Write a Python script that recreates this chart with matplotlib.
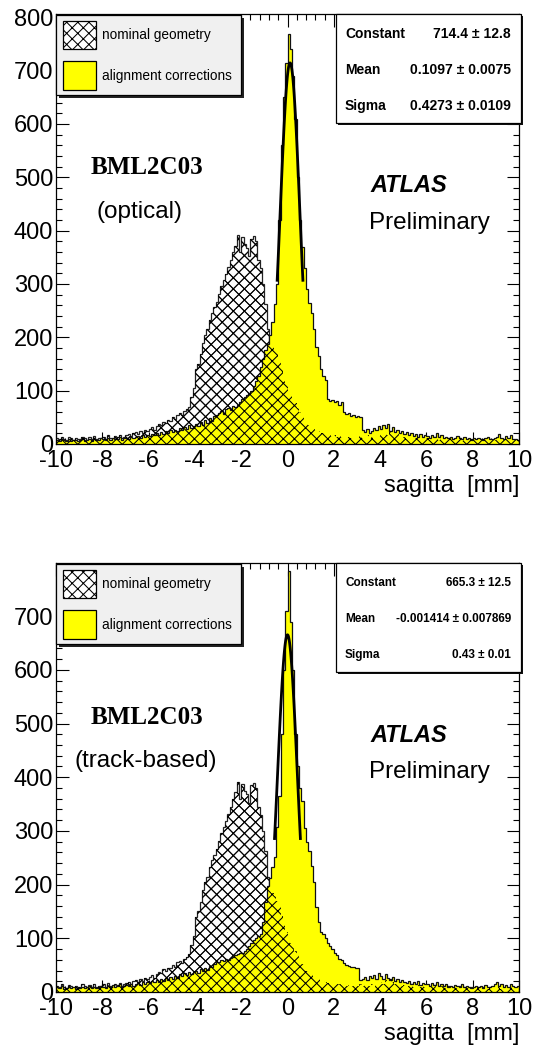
import numpy as np
import matplotlib
matplotlib.use('Agg')
import matplotlib.pyplot as plt
from matplotlib.patches import Rectangle
from matplotlib.ticker import MultipleLocator

W, H = 538, 1048

plt.rcParams.update({
    'font.family': 'Liberation Sans',
    'axes.unicode_minus': False,
    'hatch.linewidth': 0.75,
    'axes.linewidth': 0.9,
})

# ---------------------------------------------------------------------------
# Data: 200 bins of 0.1 mm between -10 and 10 mm
# ---------------------------------------------------------------------------
bin_lo, bin_hi, n_bins = -10.0, 10.0, 200

# nominal geometry (same sample in both panels)
nominal_counts = [
    12, 9, 14, 10, 8, 13, 11, 7, 12, 10,
    9, 14, 11, 8, 13, 10, 15, 9, 12, 11,
    14, 10, 16, 12, 9, 15, 13, 17, 11, 14,
    16, 19, 15, 20, 22, 18, 24, 21, 26, 24,
    28, 31, 27, 34, 38, 36, 42, 40, 45, 44,
    50, 47, 55, 58, 54, 62, 66, 70, 88, 105,
    140, 150, 168, 190, 205, 215, 232, 245, 256, 266,
    282, 296, 307, 318, 332, 345, 360, 372, 392, 360,
    388, 375, 368, 352, 385, 390, 380, 345, 330, 300,
    262, 215, 190, 184, 178, 170, 158, 142, 128, 112,
    100, 92, 84, 76, 68, 60, 52, 46, 40, 35,
    32, 28, 26, 24, 21, 20, 18, 17, 16, 15,
    16, 14, 15, 13, 14, 12, 13, 11, 12, 14,
    12, 15, 11, 13, 16, 12, 14, 10, 13, 15,
    18, 14, 22, 16, 25, 19, 15, 20, 14, 12,
    13, 10, 12, 14, 9, 11, 13, 10, 12, 9,
    11, 8, 10, 13, 9, 7, 12, 10, 8, 11,
    9, 7, 10, 8, 11, 6, 9, 8, 7, 10,
    8, 6, 9, 7, 10, 8, 6, 9, 7, 8,
    7, 9, 6, 8, 10, 7, 9, 6, 8, 7,
]

# alignment corrections, optical
optical_counts = [
    8, 6, 10, 7, 5, 9, 6, 8, 7, 5,
    7, 9, 6, 8, 10, 6, 9, 7, 8, 11,
    9, 7, 11, 8, 12, 9, 10, 13, 8, 11,
    12, 10, 14, 11, 13, 15, 12, 16, 14, 17,
    15, 18, 16, 20, 17, 22, 19, 24, 21, 26,
    22, 27, 24, 30, 26, 32, 28, 35, 30, 33,
    38, 34, 42, 36, 45, 40, 48, 44, 52, 55,
    58, 62, 56, 66, 68, 64, 72, 70, 74, 78,
    84, 88, 92, 95, 100, 108, 118, 128, 145, 160,
    176, 188, 205, 228, 262, 300, 420, 560, 650, 715,
    768, 740, 690, 610, 500, 420, 370, 330, 290, 265,
    245, 215, 182, 165, 140, 128, 120, 84, 80, 82,
    78, 80, 74, 78, 60, 56, 58, 52, 55, 50,
    53, 50, 26, 22, 28, 20, 24, 30, 26, 34,
    28, 35, 30, 38, 25, 32, 22, 26, 20, 24,
    18, 22, 16, 20, 15, 19, 14, 18, 13, 16,
    15, 12, 17, 14, 20, 13, 16, 11, 14, 12,
    13, 10, 12, 15, 11, 9, 13, 10, 12, 8,
    11, 9, 12, 10, 8, 11, 13, 9, 10, 12,
    14, 18, 12, 10, 15, 11, 16, 9, 10, 8,
]

# alignment corrections, track-based
track_counts = [
    9, 7, 11, 6, 8, 10, 7, 9, 6, 8,
    8, 10, 7, 9, 11, 8, 10, 7, 9, 12,
    10, 8, 12, 9, 13, 10, 11, 14, 9, 12,
    13, 11, 15, 12, 14, 17, 13, 18, 15, 19,
    17, 20, 18, 22, 19, 24, 21, 26, 23, 28,
    25, 30, 27, 33, 29, 35, 31, 38, 34, 37,
    40, 36, 42, 39, 45, 41, 48, 46, 52, 55,
    56, 60, 58, 62, 60, 64, 66, 68, 70, 72,
    72, 76, 80, 86, 92, 96, 100, 104, 108, 130,
    168, 198, 212, 232, 252, 308, 365, 480, 600, 710,
    785, 690, 600, 480, 420, 380, 355, 305, 280, 262,
    235, 205, 159, 130, 112, 108, 100, 92, 85, 80,
    72, 68, 62, 60, 54, 50, 48, 46, 47, 45,
    44, 22, 25, 28, 22, 30, 26, 32, 24, 35,
    30, 24, 34, 27, 22, 28, 20, 25, 18, 22,
    19, 16, 21, 15, 18, 14, 20, 13, 17, 15,
    14, 12, 16, 13, 18, 11, 15, 12, 14, 10,
    12, 9, 13, 11, 10, 14, 9, 12, 10, 8,
    10, 12, 9, 11, 8, 13, 10, 9, 11, 15,
    18, 12, 15, 10, 13, 9, 14, 11, 10, 12,
]

# gaussian fit parameters (constant, mean, sigma)
optical_fit = (714.4, 0.1097, 0.4273)
track_fit = (665.3, -0.001414, 0.43)

optical_stats = [('Constant', '714.4 \u00b1 12.8'),
                 ('Mean', '0.1097 \u00b1 0.0075'),
                 ('Sigma', '0.4273 \u00b1 0.0109')]
track_stats = [('Constant', '665.3 \u00b1 12.5'),
               ('Mean', '-0.001414 \u00b1 0.007869'),
               ('Sigma', '0.43 \u00b1 0.01')]

legend_labels = ['nominal geometry', 'alignment corrections']

YELLOW = '#ffff00'
HATCH = 'xxx'


# ---------------------------------------------------------------------------
# helpers (pixel coords -> figure coords)
# ---------------------------------------------------------------------------
def fx(x):
    return x / W


def fy(y):
    return 1 - y / H


def _rect(fig, x0, y0, x1, y1, **kw):
    r = Rectangle((fx(x0), fy(y1)), (x1 - x0) / W, (y1 - y0) / H,
                  transform=fig.transFigure, **kw)
    fig.add_artist(r)
    return r


def _boxed(fig, x0, y0, x1, y1, face, shadow='#222222', off=3):
    _rect(fig, x0 + off, y0 + off, x1 + off, y1 + off,
          facecolor=shadow, edgecolor='none', zorder=4)
    _rect(fig, x0, y0, x1, y1, facecolor=face, edgecolor='black',
          linewidth=0.9, zorder=5)


def _legend(fig, top):
    _boxed(fig, 56, top, 241, top + 80, '#f0f0f0')
    _rect(fig, 63, top + 6, 96, top + 34, facecolor='white',
          edgecolor='black', hatch=HATCH, linewidth=0.9, zorder=6)
    _rect(fig, 63, top + 46, 96, top + 75, facecolor=YELLOW,
          edgecolor='black', linewidth=0.9, zorder=6)
    for dy, lab in zip((20, 61), legend_labels):
        fig.text(fx(102), fy(top + dy), lab, fontsize=9.8,
                 va='center', ha='left', zorder=7)


def _stats(fig, top, rows, fs):
    _boxed(fig, 336, top, 521, top + 109, 'white', shadow='#111111', off=2)
    for dy, (name, val) in zip((20, 56, 92), rows):
        fig.text(fx(345), fy(top + dy), name, fontsize=fs, weight='bold',
                 va='center', ha='left', zorder=7)
        fig.text(fx(511), fy(top + dy), val, fontsize=fs, weight='bold',
                 va='center', ha='right', zorder=7)


def _panel(fig, top, bottom, counts, fit, ymax, ymaxtick, stats, stats_fs,
           method, method_x):
    ax = fig.add_axes([fx(56), fy(bottom), (519 - 56) / W, (bottom - top) / H])
    edges = np.linspace(bin_lo, bin_hi, n_bins + 1)

    ax.stairs(nominal_counts, edges, fill=True, facecolor='white',
              edgecolor='#222222', hatch=HATCH, linewidth=0.9, zorder=1)
    ax.stairs(counts, edges, fill=True, facecolor=YELLOW,
              edgecolor='#111111', linewidth=0.9, zorder=2)
    ax.stairs(nominal_counts, edges, fill=True, facecolor='none',
              edgecolor='black', hatch=HATCH, linewidth=0, zorder=3)

    c, m, s = fit
    xf = np.linspace(m - 1.3 * s, m + 1.3 * s, 120)
    ax.plot(xf, c * np.exp(-0.5 * ((xf - m) / s) ** 2), color='black',
            lw=2.0, zorder=4)

    ax.set_xlim(bin_lo, bin_hi)
    ax.set_ylim(0, ymax)
    ax.set_xticks(np.arange(-10, 11, 2))
    ax.set_xticklabels([f'{v:d}' for v in range(-10, 11, 2)])
    ax.set_yticks(np.arange(0, ymaxtick + 1, 100))
    ax.xaxis.set_minor_locator(MultipleLocator(0.4))
    ax.yaxis.set_minor_locator(MultipleLocator(20))
    ax.tick_params(which='both', direction='in', top=True, right=True,
                   width=0.8, labelsize=17)
    ax.tick_params(which='major', length=9)
    ax.tick_params(which='minor', length=4.5)
    ax.tick_params(axis='x', pad=4)
    ax.tick_params(axis='y', pad=2)

    fig.text(fx(519), fy(bottom + 42), 'sagitta  [mm]', fontsize=17,
             ha='right', va='center')

    # annotations inside the frame
    fig.text(fx(147), fy(top + 154), 'BML2C03', family='Liberation Serif',
             weight='bold', fontsize=18, ha='center', va='center')
    fig.text(fx(method_x), fy(top + 198), method,
             fontsize=17.5, ha='left', va='center')
    fig.text(fx(370), fy(top + 172), 'ATLAS', fontsize=17, weight='bold',
             style='italic', ha='left', va='center')
    fig.text(fx(369), fy(top + 209), 'Preliminary', fontsize=17.5,
             ha='left', va='center')

    _legend(fig, top + 1)
    _stats(fig, top, stats, stats_fs)
    return ax


fig = plt.figure(figsize=(W / 100, H / 100), dpi=100)
fig.patch.set_facecolor('white')

_panel(fig, 14, 444, optical_counts, optical_fit, 806, 800,
       optical_stats, 10, '(optical)', 97)
_panel(fig, 563, 992, track_counts, track_fit, 799, 700,
       track_stats, 8.5, '(track-based)', 75)

fig.savefig('out.png', dpi=100, facecolor='white')
